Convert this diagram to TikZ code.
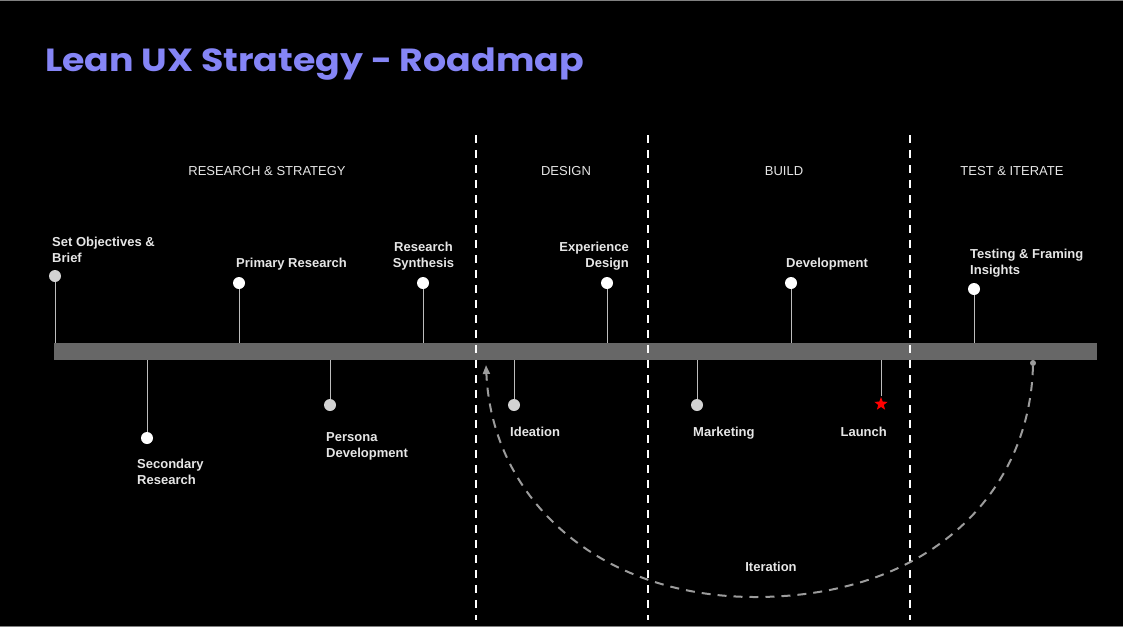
\documentclass[tikz,border=0pt]{standalone}
\usepackage{fontspec}
\setmainfont{Liberation Sans}
\newfontfamily\titlefont{Poppins}
\usetikzlibrary{positioning, arrows.meta, shapes.geometric}

\definecolor{lavender}{HTML}{8585F6}
\definecolor{bargray}{HTML}{676767}
\definecolor{stemgray}{HTML}{BDBDBD}
\definecolor{dotgray}{HTML}{D2D2D2}
\definecolor{lblgray}{HTML}{E6E6E6}
\definecolor{itergray}{HTML}{9C9C9C}

\begin{document}
\begin{tikzpicture}[x=1pt, y=-1pt,
	msdot/.style={circle, fill=white, inner sep=0pt, minimum size=12pt},
	greydot/.style={msdot, fill=dotgray},
	stemline/.style={draw=stemgray, line width=1pt},
	lbl/.style={text=lblgray, font=\bfseries\fontsize{13}{16}\selectfont, inner sep=0pt},
	phase/.style={text=lblgray, font=\fontsize{13}{16}\selectfont, inner sep=0pt, anchor=base},
	divider/.style={draw=white, line width=2.5pt, dash pattern=on 8pt off 7pt},
	iterline/.style={draw=itergray, line width=2pt, dash pattern=on 9pt off 7pt}]
	
	%Background
	\fill[black] (0,0) rectangle (1123,627);
	\useasboundingbox (0,0) rectangle (1123,627);
	\draw[gray, line width=1pt] (0,0.5) -- (1123,0.5);
	\draw[gray, line width=1pt] (0,626.5) -- (1123,626.5);
	
	%Title
	\node[anchor=base west, inner sep=0pt, text=lavender, font=\titlefont\bfseries\fontsize{32}{40}\selectfont] (title) at (45,71) {\scalebox{1.136}[1]{Lean UX Strategy - Roadmap}};
	
	%Phases
	\node[phase] (research) at (267,175) {RESEARCH \& STRATEGY};
	\node[phase] (design) at (566,175) {DESIGN};
	\node[phase] (build) at (784,175) {BUILD};
	\node[phase] (test) at (1012,175) {TEST \& ITERATE};
	
	%Timeline
	\node[fill=bargray, minimum width=1043pt, minimum height=17pt, inner sep=0pt] (bar) at (575.5,351.5) {};
	
	%Milestones above
	\node[greydot] (objdot) at (55,276) {};
	\node[msdot] (primdot) at (239,283) {};
	\node[msdot] (synthdot) at (423,283) {};
	\node[msdot] (expdot) at (607,283) {};
	\node[msdot] (devdot) at (791,283) {};
	\node[msdot] (testdot) at (974,289) {};
	
	%Milestones below
	\node[msdot] (secdot) at (147,438) {};
	\node[greydot] (persdot) at (330,405) {};
	\node[greydot] (ideadot) at (514,405) {};
	\node[greydot] (markdot) at (697,405) {};
	\node[star, star points=5, star point ratio=2.4, fill=red, inner sep=0pt, minimum size=14pt] (launchstar) at (881,404) {};
	
	%Stems
	\draw[stemline] (objdot.south) -- (objdot |- bar.north);
	\draw[stemline] (primdot.south) -- (primdot |- bar.north);
	\draw[stemline] (synthdot.south) -- (synthdot |- bar.north);
	\draw[stemline] (expdot.south) -- (expdot |- bar.north);
	\draw[stemline] (devdot.south) -- (devdot |- bar.north);
	\draw[stemline] (testdot.south) -- (testdot |- bar.north);
	\draw[stemline] (secdot.north) -- (secdot |- bar.south);
	\draw[stemline] (persdot.north) -- (persdot |- bar.south);
	\draw[stemline] (ideadot.north) -- (ideadot |- bar.south);
	\draw[stemline] (markdot.north) -- (markdot |- bar.south);
	\draw[stemline] (launchstar.north) -- (launchstar |- bar.south);
	
	%Labels
	\node[lbl, anchor=base west, align=left] (objlbl) at (52,262) {Set Objectives \&\\Brief};
	\node[lbl, anchor=base west] (primlbl) at (236,267) {Primary Research};
	\node[lbl, anchor=base, align=center] (synthlbl) at (423.5,267) {Research\\Synthesis};
	\node[lbl, anchor=base east, align=right] (explbl) at (629,267) {Experience\\Design};
	\node[lbl, anchor=base west] (devlbl) at (786,267) {Development};
	\node[lbl, anchor=base west, align=left] (testlbl) at (970,274) {Testing \& Framing\\Insights};
	\node[lbl, anchor=base west, align=left] (seclbl) at (137,484) {Secondary\\Research};
	\node[lbl, anchor=base west, align=left] (perslbl) at (326,457) {Persona\\Development};
	\node[lbl, anchor=base west] (idealbl) at (510,436) {Ideation};
	\node[lbl, anchor=base west] (marklbl) at (693,436) {Marketing};
	\node[lbl, anchor=base east] (launchlbl) at (887,436) {Launch};
	
	%Phase dividers
	\foreach \x in {476,648,910}
		\draw[divider] (\x,135) -- (\x,620);
	
	%Iteration loop
	\node[circle, fill=itergray, inner sep=0pt, minimum size=6pt] (iterstart) at (1033,363) {};
	\coordinate (iterbot) at (755,597);
	\coordinate (iterend) at (486,365);
	\draw[iterline, -{Triangle[length=9pt, width=7pt]}] (iterstart) .. controls (1030,492) and (930,597) .. (iterbot) .. controls (600,597) and (492,500) .. (iterend);
	\node[lbl, anchor=base] (iterlbl) at (771,571) {Iteration};
	
\end{tikzpicture}
\end{document}
